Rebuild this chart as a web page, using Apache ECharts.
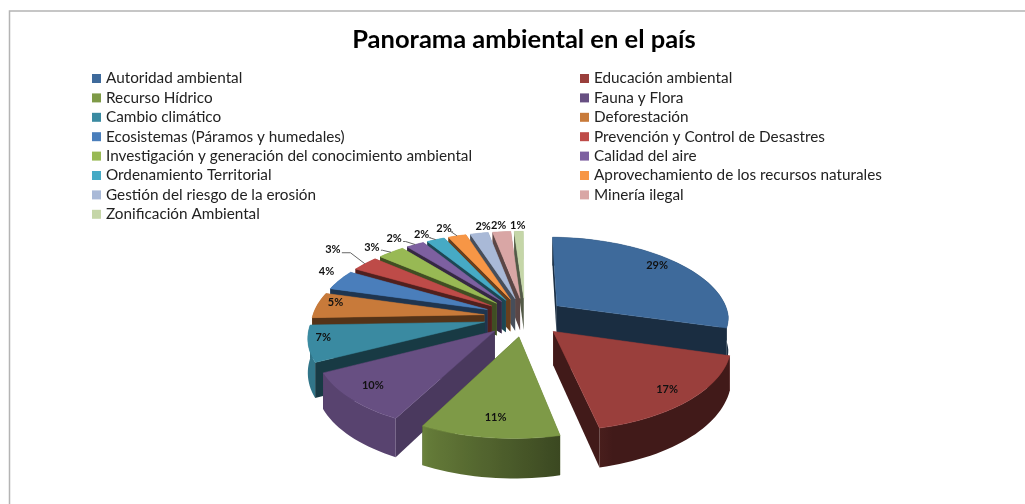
<!DOCTYPE html>
<html>
<head>
<meta charset="utf-8">
<style>
  html, body { margin: 0; padding: 0; background: #fff; }
  #chart { width: 1025px; height: 504px; }
</style>
<script src="https://cdn.jsdelivr.net/npm/echarts@6/dist/echarts.min.js"></script>
</head>
<body>
<div id="chart"></div>
<script>
const categories = [
  'Autoridad ambiental', 'Educación ambiental', 'Recurso Hídrico', 'Fauna y Flora',
  'Cambio climático', 'Deforestación', 'Ecosistemas (Páramos y humedales)',
  'Prevención y Control de Desastres', 'Investigación y generación del conocimiento ambiental',
  'Calidad del aire', 'Ordenamiento Territorial', 'Aprovechamiento de los recursos naturales',
  'Gestión del riesgo de la erosión', 'Minería ilegal', 'Zonificación Ambiental'
]
const shares = [29, 17, 11, 10, 7, 5, 4, 3, 3, 2, 2, 2, 2, 2, 1]
const colors = [
  '#3E6A9B', '#9A3F3C', '#7E9A47', '#674F82', '#3A8AA1', '#C87A3A', '#4A7EBB', '#BE4B48',
  '#98B954', '#7D60A0', '#46AAC5', '#F79646', '#A9B9D7', '#D9A6A5', '#C5D6A8'
]

// label spot on the top face: [fraction of radius, dx, dy]
const labelSpots = [
  [0.69, 15, -10], [0.68, 25, 13], [0.67, -4, 17], [0.66, -30, 12], [0.84, -14, -3], [0.78, -18, -5],
  [1.0, -13, -9], [1.0, -32, -14], [1.0, -19, -5], [1.0, -21, -6], [1.0, -14, -5],
  [1.0, -13, -7], [1.0, 4, -7], [1.0, -3, -6], [1.0, -1, -6]
]
const hasLeader = [0, 0, 0, 0, 0, 0, 0, 1, 1, 1, 1, 1, 0, 0, 0]

// fake 3D projection of the exploded pie
const view = { cx: 525, cy: 317, radius: 172, explode: 41, tilt: 0.472, persp: 0.000816, depth: 33, start: 1.5, bow: 0.025 }
const total = shares.reduce((a, b) => a + b, 0)

function project(x, y, z) {
  const s = 1 / (1 - y * view.persp)
  return [view.cx + x * s - Math.abs(y) * view.bow, view.cy + y * view.tilt * s + z * s]
}

function shade(hex, f) {
  const n = parseInt(hex.slice(1), 16)
  const c = [n >> 16, (n >> 8) & 255, n & 255].map(v => Math.round(v * f))
  return `rgb(${c.join(',')})`
}

function sliceAngles(i) {
  const before = shares.slice(0, i).reduce((a, b) => a + b, 0)
  const a0 = view.start + before / total * 360
  return [a0, a0 + shares[i] / total * 360]
}

function ground(a, r, ox, oy) {
  const t = a * Math.PI / 180
  return [ox + r * Math.sin(t), oy - r * Math.cos(t)]
}

function outerShade(phi) {
  if (phi <= 165) return 0.42
  if (phi < 205) return 0.45 + (phi - 165) / 40 * 0.35
  return 0.85
}

// outer wall as one shape, shaded across its screen width
function outerWall(arc, color) {
  const top = arc.map(o => project(o.p[0], o.p[1], 0))
  const bottom = arc.map(o => project(o.p[0], o.p[1], view.depth))
  const xs = top.map(p => p[0])
  const x0 = Math.min(...xs)
  const x1 = Math.max(...xs)
  const stops = arc.map((o, k) => ({
    offset: (xs[k] - x0) / Math.max(x1 - x0, 1),
    color: shade(color, outerShade(o.a))
  })).sort((u, v) => u.offset - v.offset)
  return {
    y: arc.reduce((sum, o) => sum + o.p[1], 0) / arc.length,
    pts: top.concat(bottom.reverse()),
    fill: new echarts.graphic.LinearGradient(x0, 0, x1, 0, stops, true)
  }
}

function renderSlice(params, api) {
  const i = params.seriesIndex
  const color = colors[i]
  const [a0, a1] = sliceAngles(i)
  const mid = (a0 + a1) / 2
  const [ox, oy] = ground(mid, view.explode, 0, 0)
  const arc = []
  const steps = Math.max(3, Math.round((a1 - a0) / 2))
  for (let k = 0; k <= steps; k++) {
    const a = a0 + (a1 - a0) * k / steps
    arc.push({ a, p: ground(a, view.radius, ox, oy) })
  }
  const apexTop = project(ox, oy, 0)
  const apexBot = project(ox, oy, view.depth)

  // walls, far ones painted first
  const walls = [outerWall(arc, color)]
  const radial = (p, a) => {
    const phi = ((a % 360) + 360) % 360
    walls.push({
      y: (p[1] + oy) / 2,
      pts: [apexTop, project(p[0], p[1], 0), project(p[0], p[1], view.depth), apexBot],
      fill: shade(color, phi < 130 ? 0.72 : 0.42)
    })
  }
  radial(arc[0].p, a0 - 90)
  radial(arc[arc.length - 1].p, a1 + 90)
  walls.sort((u, v) => u.y - v.y)

  const children = walls.map(w => ({
    type: 'polygon',
    shape: { points: w.pts },
    style: { fill: w.fill }
  }))
  children.push({
    type: 'polygon',
    shape: { points: [apexTop].concat(arc.map(o => project(o.p[0], o.p[1], 0))) },
    style: { fill: color, stroke: color, lineWidth: 0.5 }
  })

  // label
  const spot = labelSpots[i]
  const lg = ground(mid, view.radius * spot[0], ox, oy)
  const lp = project(lg[0], lg[1], 0)
  const tx = lp[0] + spot[1]
  const ty = lp[1] + spot[2]
  if (hasLeader[i]) {
    children.push({
      type: 'polyline',
      shape: { points: [[tx + 9, ty + 3], [tx + (lp[0] - tx) * 0.55, ty + 3], lp] },
      style: { stroke: '#666', lineWidth: 1, fill: null }
    })
  }
  children.push({
    type: 'text',
    style: {
      text: api.value(0) + '%', x: tx, y: ty, fill: '#111',
      font: 'bold 11px Lato', align: 'center', verticalAlign: 'middle'
    }
  })
  return { type: 'group', children }
}

// back slices first so the front ones sit on top
const depthOrder = shares.map((_, i) => {
  const [a0, a1] = sliceAngles(i)
  return { i, y: -Math.cos((a0 + a1) / 2 * Math.PI / 180) }
}).sort((u, v) => u.y - v.y)

const series = categories.map((name, i) => ({
  type: 'custom',
  name,
  coordinateSystem: 'none',
  renderItem: renderSlice,
  data: [shares[i]],
  itemStyle: { color: colors[i] },
  z: 5 + depthOrder.findIndex(d => d.i === i),
  silent: true,
  animation: false
}))

function legendColumn(left, names) {
  return {
    left, top: 71, orient: 'vertical', padding: 0, itemWidth: 9, itemHeight: 9, itemGap: 4.4,
    icon: 'rect', selectedMode: false, data: names,
    textStyle: { fontFamily: 'Lato', fontSize: 15.3, color: '#222', lineHeight: 14, padding: [0, 0, 0, 0] }
  }
}

const chart = echarts.init(document.getElementById('chart'), null, { renderer: 'canvas' })
chart.setOption({
  animation: false,
  backgroundColor: '#fff',
  title: {
    text: 'Panorama ambiental en el país',
    left: 519, top: 22, textAlign: 'center',
    textStyle: { fontFamily: 'Lato', fontWeight: 'bold', fontSize: 25.5, color: '#000' }
  },
  legend: [
    legendColumn(92, categories.filter((_, i) => i % 2 === 0)),
    legendColumn(580, categories.filter((_, i) => i % 2 === 1))
  ],
  graphic: [{
    type: 'polyline',
    shape: { points: [[9.5, 504], [9.5, 11], [1025, 11]] },
    style: { stroke: '#b4b4b4', lineWidth: 1.5, fill: null },
    silent: true
  }],
  series
})
</script>
</body>
</html>
